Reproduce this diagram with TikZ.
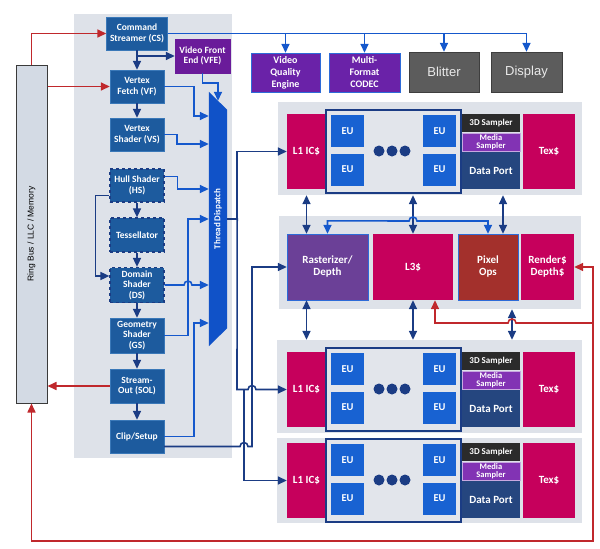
\documentclass[tikz,border=0pt]{standalone}
\usepackage{fontspec}
\setmainfont{Carlito}
\newfontfamily\arialfont{Liberation Sans}
\usetikzlibrary{arrows.meta}

\definecolor{panelgray}{HTML}{DEE2E9}
\definecolor{framegray}{HTML}{E2E5EB}
\definecolor{stageblue}{HTML}{1D5B9E}
\definecolor{stageedge}{HTML}{3A78B8}
\definecolor{navy}{HTML}{1B3C84}
\definecolor{wireblue}{HTML}{1558CC}
\definecolor{tdblue}{HTML}{1052C8}
\definecolor{vfepurple}{HTML}{6A1B9A}
\definecolor{vqpurple}{HTML}{6A22A8}
\definecolor{edgeblue}{HTML}{2E6BD8}
\definecolor{blockgray}{HTML}{5C5C5C}
\definecolor{blockedge}{HTML}{3E3E3E}
\definecolor{blocktext}{HTML}{EAEAEA}
\definecolor{cachered}{HTML}{C6005C}
\definecolor{eublue}{HTML}{1862D2}
\definecolor{portblue}{HTML}{25467F}
\definecolor{samplerblack}{HTML}{2B2B2B}
\definecolor{mediapurple}{HTML}{8233B4}
\definecolor{mediaedge}{HTML}{C8A8E0}
\definecolor{rastpurple}{HTML}{6B4097}
\definecolor{pixred}{HTML}{A3302C}
\definecolor{ringfill}{HTML}{D3DAE4}
\definecolor{ringedge}{HTML}{3A3A3A}
\definecolor{redline}{HTML}{C0282C}

\tikzstyle{stage} = [draw=stageedge, fill=stageblue, text=white, font=\bfseries\fontsize{9.5}{10.5}\selectfont, align=center, inner sep=0pt, minimum width=54, minimum height=33]
\tikzstyle{tessstage} = [stage, draw=navy, dashed, line width=1.2pt]
\tikzstyle{busblock} = [draw=ringedge, fill=ringfill, line width=1pt, inner sep=0pt, minimum width=31, minimum height=338]
\tikzstyle{mediablock} = [draw=edgeblue, fill=vqpurple, text=white, font=\bfseries\fontsize{10}{12}\selectfont, align=center, inner sep=0pt, minimum width=69, minimum height=39]
\tikzstyle{fixedblock} = [draw=blockedge, fill=blockgray, text=blocktext, font=\arialfont\fontsize{13}{15}\selectfont, inner sep=0pt, minimum width=70, minimum height=40]
\tikzstyle{panel} = [fill=panelgray, inner sep=0pt]
\tikzstyle{cache} = [fill=cachered, text=white, font=\bfseries\fontsize{11}{12}\selectfont, align=center, inner sep=0pt]
\tikzstyle{euframe} = [draw=navy, line width=1.2pt, fill=framegray, inner sep=0pt, minimum width=135, minimum height=83]
\tikzstyle{eu} = [fill=eublue, text=white, font=\bfseries\fontsize{10.5}{12}\selectfont, inner sep=0pt, minimum width=33, minimum height=32]
\tikzstyle{eudot} = [circle, fill=navy, inner sep=0pt, minimum size=11]
\tikzstyle{sampler} = [fill=samplerblack, text=white, font=\bfseries\fontsize{9}{10}\selectfont, inner sep=0pt, minimum width=58, minimum height=18]
\tikzstyle{mediasampler} = [sampler, fill=mediapurple, draw=mediaedge, font=\bfseries\fontsize{8.5}{8.5}\selectfont, align=center]
\tikzstyle{dataport} = [fill=portblue, text=white, font=\bfseries\fontsize{11}{12}\selectfont, inner sep=0pt, minimum width=58, minimum height=37]
\tikzstyle{navywire} = [draw=navy, line width=1.6pt]
\tikzstyle{bluewire} = [draw=wireblue, line width=1.6pt]
\tikzstyle{redwire} = [draw=redline, line width=1.6pt]

\begin{document}
\begin{tikzpicture}[x=1pt, y=-1pt, >={Triangle[length=9pt, width=8pt]}]
      \useasboundingbox (0,0) rectangle (600,549);
      \fill[panelgray] (74,14) rectangle (232,458);
      \node[busblock, label={[rotate=90, font=\arialfont\fontsize{8.5}{10}\selectfont]center:Ring Bus / LLC / Memory}] (ringbus) at (31.5, 234) {};

      % front end
      \node[stage, minimum width=61] (cs) at (137, 33.5) {Command\\Streamer (CS)};
      \node[stage, fill=vfepurple, draw=vfepurple, minimum width=55, minimum height=34] (vfe) at (202.5, 56) {Video Front\\End (VFE)};
      \node[stage] (vf) at (137, 86.5) {Vertex\\Fetch (VF)};
      \node[stage] (vs) at (137, 134.5) {Vertex\\Shader (VS)};
      \node[tessstage] (hs) at (137, 185.5) {Hull Shader\\(HS)};
      \node[tessstage, minimum height=34] (tess) at (137, 235) {Tessellator};
      \node[tessstage, minimum height=35] (ds) at (137, 285) {Domain\\Shader\\(DS)};
      \node[stage, minimum height=35] (gs) at (137, 335.5) {Geometry\\Shader\\(GS)};
      \node[stage, minimum height=34] (sol) at (137, 386) {Stream-\\Out (SOL)};
      \node[stage] (clip) at (137, 436.5) {Clip/Setup};

      \node[inner sep=0pt, minimum width=18, minimum height=254] (td) at (218, 219) {};
      \fill[tdblue] (td.north west) -- ([yshift=-18]td.north east) -- ([yshift=18]td.south east) -- (td.south west) -- cycle;
      \node[rotate=90, text=white, font=\bfseries\fontsize{9}{10}\selectfont] at (td) {Thread Dispatch};

      % media / display blocks
      \node[mediablock] (vqe) at (285.5, 72.5) {Video\\Quality\\Engine};
      \node[mediablock, minimum width=71] (mfc) at (364.5, 72.5) {Multi-\\Format\\CODEC};
      \node[fixedblock] (blitter) at (444, 72) {Blitter};
      \node[fixedblock, minimum width=71] (display) at (526.5, 72) {Display};

      % slice A
      \node[panel, minimum width=304, minimum height=93] (slicea) at (430, 148.5) {};
      \node[cache, minimum width=39, minimum height=75] (l1a) at (306.5, 151.5) {L1 IC\$};
      \node[euframe] (eusa) at (393.5, 151.5) {};
      \node[eu] (eua1) at (347.5, 131) {EU};
      \node[eu] (eua2) at (347.5, 169.5) {EU};
      \node[eu] (eua3) at (439.5, 131) {EU};
      \node[eu] (eua4) at (439.5, 169.5) {EU};
      \node[eudot] (dota1) at (379, 151) {};
      \node[eudot] (dota2) at (392, 151) {};
      \node[eudot] (dota3) at (405, 151) {};
      \node[sampler] (smpa) at (491, 123) {3D Sampler};
      \node[mediasampler] (msmpa) at (491, 142) {Media\\Sampler};
      \node[dataport] (porta) at (491, 170.5) {Data Port};
      \node[cache, minimum width=52, minimum height=75] (texa) at (549, 151.5) {Tex\$};

      % slice common
      \node[panel, minimum width=302, minimum height=93] (slicem) at (430, 262.5) {};
      \node[cache, fill=rastpurple, draw=edgeblue, minimum width=81, minimum height=66] (raster) at (327.5, 267) {Rasterizer/\\Depth};
      \node[cache, minimum width=80, minimum height=66] (l3) at (413, 267) {L3\$};
      \node[cache, fill=pixred, draw=edgeblue, minimum width=60, minimum height=66] (pixops) at (488, 267) {Pixel\\Ops};
      \node[cache, minimum width=53, minimum height=66] (render) at (547.5, 267) {Render\$\\Depth\$};

      % slice B
      \node[panel, minimum width=305, minimum height=93] (sliceb) at (429.5, 386.5) {};
      \node[cache, minimum width=39, minimum height=75] (l1b) at (306.5, 389.5) {L1 IC\$};
      \node[euframe] (eusb) at (393.5, 389.5) {};
      \node[eu] (eub1) at (347.5, 369) {EU};
      \node[eu] (eub2) at (347.5, 407.5) {EU};
      \node[eu] (eub3) at (439.5, 369) {EU};
      \node[eu] (eub4) at (439.5, 407.5) {EU};
      \node[eudot] (dotb1) at (379, 389) {};
      \node[eudot] (dotb2) at (392, 389) {};
      \node[eudot] (dotb3) at (405, 389) {};
      \node[sampler] (smpb) at (491, 361) {3D Sampler};
      \node[mediasampler] (msmpb) at (491, 380) {Media\\Sampler};
      \node[dataport] (portb) at (491, 408.5) {Data Port};
      \node[cache, minimum width=52, minimum height=75] (texb) at (549, 389.5) {Tex\$};

      % slice C
      \node[panel, minimum width=305, minimum height=85] (slicec) at (429.5, 480.5) {};
      \node[cache, minimum width=39, minimum height=75] (l1c) at (306.5, 480.5) {L1 IC\$};
      \node[euframe] (eusc) at (393.5, 480.5) {};
      \node[eu] (euc1) at (347.5, 460) {EU};
      \node[eu] (euc2) at (347.5, 498.5) {EU};
      \node[eu] (euc3) at (439.5, 460) {EU};
      \node[eu] (euc4) at (439.5, 498.5) {EU};
      \node[eudot] (dotc1) at (379, 480) {};
      \node[eudot] (dotc2) at (392, 480) {};
      \node[eudot] (dotc3) at (405, 480) {};
      \node[sampler] (smpc) at (491, 452) {3D Sampler};
      \node[mediasampler] (msmpc) at (491, 471) {Media\\Sampler};
      \node[dataport] (portc) at (491, 499.5) {Data Port};
      \node[cache, minimum width=52, minimum height=75] (texc) at (549, 480.5) {Tex\$};

      % front end flow
      \draw[navywire, ->] (cs) -- (vf);
      \draw[navywire, ->] (cs.south |- vfe.west) -- (vfe.west);
      \draw[navywire, ->] (vf) -- (vs);
      \draw[navywire, ->] (hs) -- (tess);
      \draw[navywire, ->] (tess) -- (ds);
      \draw[navywire, ->] (ds) -- (gs);
      \draw[navywire, ->] (gs) -- (sol);
      \draw[navywire, ->] (sol) -- (clip);
      \draw[navywire, ->] ([yshift=-10]hs.west) -- ++(-14,0) |- ([yshift=9]ds.west);

      % into thread dispatch
      \draw[bluewire, ->] (vfe.south) -- ++(0,10) -| ([yshift=-9]td.north);
      \draw[bluewire, ->] (vf.east) -- ++(30,0) |- ([yshift=103]td.west);
      \draw[bluewire, ->] (vs.east) -- ++(13,0) |- ([yshift=75]td.west);
      \draw[bluewire, ->] ([yshift=9]hs.east) -- ++(13,0) |- ([yshift=30]td.west);
      \draw[bluewire, ->] (gs.east) -- ++(24,0) |- (td.west);
      \draw[bluewire, ->] (ds.east) -- (184,285) arc (180:360:4) -- ([yshift=-66]td.west);
      \draw[bluewire, ->] (clip.east) -- ++(30,0) |- ([yshift=-104]td.west);

      % command streamer to media blocks
      \draw[bluewire, ->] (cs.east) -| (display.north);
      \draw[bluewire, ->] (cs.east -| vqe.north) -- (vqe.north);
      \draw[bluewire, ->] (cs.east -| mfc.north) -- (mfc.north);
      \draw[bluewire, ->] (cs.east -| blitter.north) -- (blitter.north);

      % thread dispatch to slices
      \draw[navywire, ->] (td.east) -- ++(10,0) |- (l1a.west);
      \draw[navywire, ->] (td.east) -- ++(10,0) -- (237,389.5) -- (248,389.5) arc (180:360:4) -- (l1b.west);
      \draw[navywire, ->] (244,389.5) |- (l1c.west);
      \draw[navywire, ->] ([yshift=-10]clip.east) -- (240,446.5) arc (180:360:4) -- (252,446.5) |- (raster.west);

      % slice links
      \draw[navywire, <->] (l1a.south |- slicea.south) -- (l1a.south |- raster.north);
      \draw[navywire, <->] (l3.north |- slicea.south) -- (l3.north);
      \draw[navywire, <->] ([xshift=15]pixops.north |- slicea.south) -- ([xshift=15]pixops.north);
      \draw[bluewire, <->] (raster.north) -- ++(0,-13) -- (409,221) arc (180:360:4) -| (pixops.north);
      \draw[navywire, <->] (l1b.north |- raster.south) -- (l1b.north |- sliceb.north);
      \draw[navywire, <->] (l3.south) -- (l3.south |- sliceb.north);
      \draw[navywire, <->] ([xshift=24]pixops.south |- slicem.south) -- ([xshift=24]pixops.south |- sliceb.north);

      % ring bus
      \coordinate (busturn) at (593, 541);
      \draw[redwire, ->] (ringbus.north) |- (cs.west);
      \draw[redwire, ->] (ringbus.east |- vf.west) -- (vf.west);
      \draw[redwire, ->] (sol.west) -- (sol.west -| ringbus.east);
      \draw[redwire, <->] (ringbus.south) |- (busturn) |- (render.east);
      \draw[redwire, ->] (593,323) -- (516,323) arc (0:-180:4) -- (435,323) -- ([xshift=22]l3.south);
    \end{tikzpicture}
\end{document}
